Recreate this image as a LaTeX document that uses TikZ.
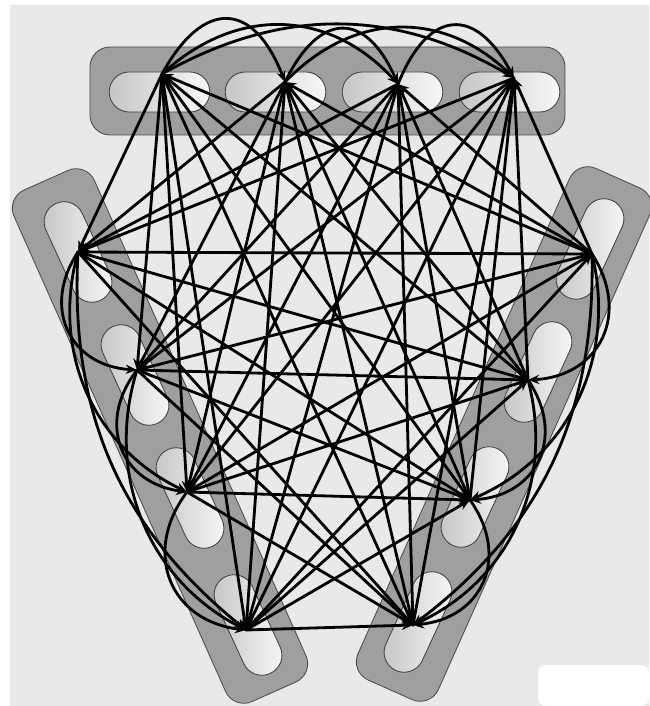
\documentclass[tikz,border=0pt]{standalone}
\usepackage{tikz}
\usetikzlibrary{arrows.meta,shapes.misc}

\begin{document}
\begin{tikzpicture}[
  x=0.25mm, y=-0.25mm,
  >={Stealth[length=2.8mm,width=2.3mm]},
  band/.style={draw=black!70, line width=0.6pt, fill=gray!75, rectangle, rounded corners=5mm, minimum height=22mm},
  slot/.style={draw=black!75, line width=0.6pt, rounded rectangle, minimum width=27.5mm, minimum height=10mm, left color=gray!45, right color=gray!6},
  tilted/.style={slot, minimum width=29mm},
  link/.style={->, line width=2pt, line cap=round}
]
\useasboundingbox (0,0) rectangle (649,706);
\fill[white] (0,0) rectangle (649,706);
\fill[gray!17] (10,5) rectangle (649,706);
\fill[white, rounded corners=2mm] (538,665) rectangle (649,706);

% the three carriers
\node[band, minimum width=118.75mm] (topband) at (327.5,91) {};
\node[band, minimum width=140mm, rotate=-66] (leftband) at (160,436) {};
\node[band, minimum width=140mm, rotate=66] (rightband) at (504,434) {};

\node[slot] (ts1) at (159.5,92) {};
\node[slot] (ts2) at (275.5,92) {};
\node[slot] (ts3) at (392.5,92) {};
\node[slot] (ts4) at (509.5,92) {};
\node[tilted, rotate=-65.3] (ls1) at (78,252) {};
\node[tilted, rotate=-65.3] (ls2) at (135,375) {};
\node[tilted, rotate=-65.3] (ls3) at (190,498) {};
\node[tilted, rotate=-65.3] (ls4) at (248,625) {};
\node[tilted, rotate=65.3] (rs1) at (590,249) {};
\node[tilted, rotate=65.3] (rs2) at (538,372) {};
\node[tilted, rotate=65.3] (rs3) at (475,497) {};
\node[tilted, rotate=65.3] (rs4) at (418,622) {};

% end points of the links
\coordinate (t1) at (162,74);
\coordinate (t2) at (285,82);
\coordinate (t3) at (398,84);
\coordinate (t4) at (514,78);
\coordinate (l1) at (78,252);
\coordinate (l2) at (137,370);
\coordinate (l3) at (187,492);
\coordinate (l4) at (246,630);
\coordinate (r1) at (592,254);
\coordinate (r2) at (528,380);
\coordinate (r3) at (470,500);
\coordinate (r4) at (413,625);

\foreach \a in {1,...,4}
  \foreach \b in {1,...,4} {
    \draw[link] (t\a) -- (l\b);
    \draw[link] (l\a) -- (r\b);
    \draw[link] (r\a) -- (t\b);
  }

\draw[link] (t1) to[bend left=65, looseness=1.8] (t2);
\draw[link] (t2) to[bend left=65, looseness=1.8] (t3);
\draw[link] (t3) to[bend left=65, looseness=1.8] (t4);
\draw[link] (t1) to[bend left=45, looseness=1.1] (t3);
\draw[link] (t2) to[bend left=45, looseness=1.1] (t4);
\draw[link] (t1) to[bend left=30] (t4);

\draw[link] (l1) to[bend right=60, looseness=1.3] (l2);
\draw[link] (l2) to[bend right=60, looseness=1.3] (l3);
\draw[link] (l3) to[bend right=60, looseness=1.3] (l4);
\draw[link] (l1) to[bend right=40] (l3);
\draw[link] (l2) to[bend right=40] (l4);
\draw[link] (l1) to[bend right=27] (l4);

\draw[link] (r1) to[bend left=60, looseness=1.3] (r2);
\draw[link] (r2) to[bend left=60, looseness=1.3] (r3);
\draw[link] (r3) to[bend left=60, looseness=1.3] (r4);
\draw[link] (r1) to[bend left=40] (r3);
\draw[link] (r2) to[bend left=40] (r4);
\draw[link] (r1) to[bend left=27] (r4);
\end{tikzpicture}
\end{document}
